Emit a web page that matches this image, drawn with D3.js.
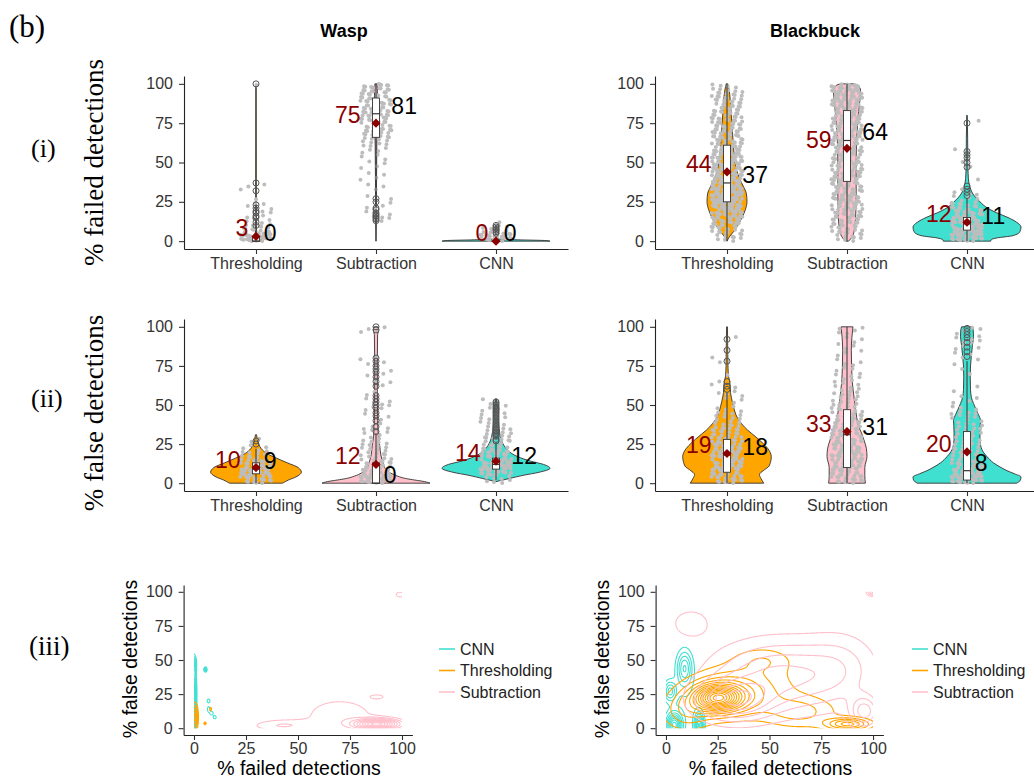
<!DOCTYPE html>
<html><head><meta charset="utf-8">
<script src="https://cdn.jsdelivr.net/npm/d3@7"></script>
<style>body{margin:0;background:#fff}</style>
</head><body><svg id="c" width="1034" height="784"></svg>
<script>
// ---------------- DATA ----------------
const methods = ["Thresholding", "Subtraction", "CNN"];
const methodColors = ["#FFA500", "#FFC0CB", "#40E0D0"];
const speciesNames = ["Wasp", "Blackbuck"];
const yTickValues = [0, 25, 50, 75, 100];
const xTickValues = [0, 25, 50, 75, 100];
const legendOrder = ["CNN", "Thresholding", "Subtraction"];
const legendColors = ["#40E0D0", "#FFA500", "#FFC0CB"];

// violin density profiles: [value, relative half-width]
const failWaspViolin = [
  [[0,0.14],[1,0.1],[2,0.04],[4,0.015],[10,0.008],[40,0.006],[100,0.004]],
  [[0,0.004],[15,0.008],[40,0.01],[60,0.015],[75,0.025],[90,0.03],[100,0.02]],
  [[0,1],[0.4,0.9],[0.8,0.45],[1.2,0.1],[1.6,0.01],[10,0.005]]
];
const failBuckViolin = [
  [[0,0],[3,0.05],[6,0.12],[10,0.2],[15,0.28],[20,0.34],[25,0.37],[30,0.36],[35,0.3],[40,0.23],[45,0.18],[50,0.15],[60,0.12],[70,0.1],[80,0.08],[90,0.06],[96,0.04],[100,0.015]],
  [[0,0.03],[3,0.1],[8,0.14],[15,0.16],[30,0.17],[50,0.17],[65,0.18],[80,0.21],[90,0.24],[96,0.25],[99,0.2],[100,0.12]],
  [[0,0.44],[1,0.45],[2,0.55],[3.5,0.85],[6,0.98],[9,1.0],[12,0.92],[15,0.76],[18,0.55],[21,0.38],[25,0.24],[30,0.11],[35,0.05],[40,0.025],[50,0.015],[65,0.012],[80,0.005]]
];
const falseWaspViolin = [
  [[0,0.49],[2,0.6],[4,0.74],[7,0.84],[10,0.78],[13,0.58],[16,0.38],[19,0.2],[22,0.1],[25,0.05],[28,0.025],[31,0.01]],
  [[0,1],[1,0.9],[2,0.72],[3,0.55],[4.5,0.4],[6.5,0.27],[9,0.18],[13,0.13],[18,0.09],[24,0.07],[30,0.045],[40,0.03],[60,0.025],[80,0.025],[95,0.03],[98,0.05],[100,0.04]],
  [[1,0],[3,0.25],[5,0.5],[7,0.8],[9.5,1.0],[12,0.88],[14,0.65],[17,0.4],[20,0.25],[24,0.15],[30,0.08],[40,0.045],[48,0.03],[54,0.005]]
];
const falseBuckViolin = [
  [[0,0.68],[3,0.63],[5.5,0.6],[8,0.67],[11,0.78],[17,0.82],[22,0.76],[26,0.65],[30,0.52],[34,0.38],[38,0.27],[42,0.19],[49,0.12],[55,0.08],[58,0.065],[62,0.06],[65,0.05],[68,0.03],[75,0.018],[90,0.012],[100,0.008]],
  [[0,0.34],[5,0.33],[10,0.33],[17,0.37],[22,0.36],[27,0.32],[32,0.27],[36,0.22],[42,0.18],[47,0.16],[55,0.13],[64,0.1],[75,0.085],[85,0.08],[93,0.09],[100,0.11]],
  [[0,0.92],[2,0.99],[4,1.0],[6,0.88],[8,0.74],[10,0.63],[13,0.49],[17,0.37],[20,0.3],[23,0.26],[28,0.24],[32,0.24],[37,0.245],[40,0.25],[44,0.21],[47,0.17],[51,0.12],[55,0.08],[60,0.065],[68,0.06],[75,0.065],[81,0.08],[88,0.1],[94,0.12],[98,0.115],[100,0.1]]
];

// jittered observations: counts per 5%-bin (0-5, 5-10, ... 95-100)
const failWaspPoints = [
  [40,12,6,5,4,1,2,1,0,0,0,0,0,0,0,0,0,0,0,1],
  [0,0,2,5,4,2,2,2,3,3,4,4,8,12,15,18,18,18,16,18],
  [30,8,1,0,0,0,0,0,0,0,0,0,0,0,0,0,0,0,0,0]
];
const failBuckPoints = [
  [10,15,22,28,32,34,32,30,28,26,25,24,22,20,18,18,16,15,14,8],
  [10,14,16,18,19,20,20,20,20,20,20,20,21,21,22,22,22,23,24,26],
  [30,35,30,22,14,6,2,1,0,1,1,1,0,0,0,1,0,0,0,0]
];
const falseWaspPoints = [
  [20,30,22,10,5,2,0,0,0,0,0,0,0,0,0,0,0,0,0,0],
  [30,20,15,10,8,6,5,3,3,4,4,2,2,2,3,3,1,0,0,4],
  [8,25,30,20,14,10,8,7,6,5,2,0,0,0,0,0,0,0,0,0]
];
const falseBuckPoints = [
  [18,20,24,24,22,18,14,10,8,5,3,4,3,1,0,1,1,0,1,0],
  [18,18,20,22,22,20,18,15,13,10,8,7,6,5,4,4,3,3,3,5],
  [30,25,18,12,9,8,8,8,7,5,3,2,1,1,1,2,3,4,5,4]
];

// box stats: [lower whisker, q1, median, q3, upper whisker]
const failWaspBox  = [[0,0,0,3,7],[30,66,81,91,100],[0,0,0,0,0]];
const failBuckBox  = [[0,25,37,61,100],[0,38,64,83,100],[0,7,11,15,27]];
const falseWaspBox = [[0,6,9,13,22],[0,0,0,13,32],[2,9,12,16,26]];
const falseBuckBox = [[0,7,18,28,58],[0,10,31,47,100],[0,2,8,33,78]];

const failWaspMean  = [3, 75, 0];
const failBuckMean  = [44, 59, 12];
const falseWaspMean = [10, 12, 14];
const falseBuckMean = [19, 33, 20];

const failWaspOut  = [[10,12,15,16,18,19,21,23,32,37,100],[13,14,15,16,17,18,20,21,25,27],[5,6,7,8,9,10]];
const failBuckOut  = [[],[],[29,31,33,35,47,50,53,55,57,75]];
const falseWaspOut = [[25,27],[33,36,40,43,45,48,50,52,54,56,62,65,68,71,73,75,78,80,98,100],
  [27,28,30,31,32,33,34,35,36,37,38,39,40,41,42,43,44,45,46,47,48,49,50,51,52]];
const falseBuckOut = [[60,62,65,78,85,92],[],[81,84,87,90,93,95,97,99]];

// 2-D density kernels (failed %, false %, sd x, sd y, weight)
const waspCnnKernels = [[0,8,0.7,5,20],[0,25,0.7,10,25],[0,47,0.7,4,6],[5.5,43,0.5,1.2,1],
  [7,20,0.6,1.2,0.6],[7,14,0.6,2,0.8],[8.5,11,0.8,1.5,0.8],[10,8,0.6,1,0.5]];
const waspThrKernels = [[0.5,8,0.9,6,20],[5.3,3.5,0.4,0.7,0.5],[8,14,0.8,2.5,1.5]];
const waspSubKernels = [[88,3,7,2.5,30],[70,9,13,10,38],[42,2,10,3,10],[88,23,2.5,1.2,0.8],[99,98,2,2,1.0]];
const buckCnnKernels = [[9,44,2.5,8.5,10],[4,2,2.5,6,12],[16,2,1.5,6,6],[2,27,2,5,4],[10,22,6,14,6]];
const buckThrKernels = [[25,22,7,6,22],[28,24,13,10,30],[42,32,16,15,20],[10,12,8,9,10],[65,12,12,8,12],[88,3,7,3,6],[47,50,9,6,4]];
const buckSubKernels = [[12,77,7,8,2.2],[32,20,12,10,14],[55,38,22,18,40],[85,45,12,18,8],[96,12,5,8,4],[100,100,2,2,0.4]];
const waspLevels = [14, 5, 10];   // CNN, Thresholding, Subtraction
const buckLevels = [8, 14, 6];

// ---------------- DRAWING ----------------
const svg = d3.select("#c");
const sans = "'Liberation Sans', Arial, Helvetica, sans-serif";
const serif = "'Liberation Serif', 'Times New Roman', serif";
const darkRed = "#8B0000";

function styleAxis(sel, fs) {
  sel.select(".domain").attr("stroke", "#222").attr("stroke-width", 1.1);
  sel.selectAll(".tick line").attr("stroke", "#333").attr("stroke-width", 1.1);
  sel.selectAll(".tick text").attr("fill", "#333").style("font-family", sans).style("font-size", fs + "px");
}

function frac(v) { return v - Math.floor(v); }

function violinPanel(xr, yr, profiles, counts, boxes, means, outs) {
  const g = svg.append("g");
  const x = d3.scaleLinear().domain([0.4, 3.6]).range(xr);
  const y = d3.scaleLinear().domain([-5, 105]).range(yr);
  const step = x(2) - x(1);
  const wS = d3.scaleLinear().domain([0, 1]).range([0, 0.45 * step]);
  const jitter = 0.13 * step;

  methods.forEach((m, i) => {
    const cx = x(i + 1);
    const area = d3.area().curve(d3.curveMonotoneY)
      .y(d => y(d[0])).x0(d => cx - wS(d[1])).x1(d => cx + wS(d[1]));
    g.append("path").attr("d", area(profiles[i]))
      .attr("fill", methodColors[i]).attr("stroke", "#333").attr("stroke-width", 0.9);
  });
  methods.forEach((m, i) => {
    const cx = x(i + 1);
    const pts = [];
    let idx = 0;
    counts[i].forEach((c, b) => {
      for (let k = 0; k < c; k++) {
        idx++;
        const v = Math.min(100, b * 5 + frac(idx * 0.6180339 + 0.31) * 5);
        const dx = (frac(idx * 0.7548777 + 0.17) * 2 - 1) * jitter;
        pts.push([v, dx]);
      }
    });
    g.append("g").selectAll("circle").data(pts).join("circle")
      .attr("cx", d => cx + d[1]).attr("cy", d => y(d[0])).attr("r", 2)
      .attr("fill", "#bdbdbd");
  });
  const bw = 7;
  methods.forEach((m, i) => {
    const cx = x(i + 1);
    const [lo, q1, md, q3, hi] = boxes[i];
    g.append("line").attr("x1", cx).attr("x2", cx).attr("y1", y(lo)).attr("y2", y(q1)).attr("stroke", "#333");
    g.append("line").attr("x1", cx).attr("x2", cx).attr("y1", y(q3)).attr("y2", y(hi)).attr("stroke", "#333");
    g.append("rect").attr("x", cx - bw / 2).attr("width", bw).attr("y", y(q3)).attr("height", Math.max(0, y(q1) - y(q3)))
      .attr("fill", "#fff").attr("stroke", "#333").attr("stroke-width", 0.9);
    g.append("line").attr("x1", cx - bw / 2).attr("x2", cx + bw / 2).attr("y1", y(md)).attr("y2", y(md)).attr("stroke", "#333").attr("stroke-width", 1.2);
    g.append("g").selectAll("circle").data(outs[i]).join("circle")
      .attr("cx", cx).attr("cy", d => y(d)).attr("r", 3)
      .attr("fill", "none").attr("stroke", "#555").attr("stroke-width", 1);
  });
  methods.forEach((m, i) => {
    const cx = x(i + 1);
    g.append("path").attr("d", d3.symbol(d3.symbolSquare, 42)())
      .attr("transform", `translate(${cx},${y(means[i])}) rotate(45)`).attr("fill", darkRed);
  });
  methods.forEach((m, i) => {
    const cx = x(i + 1);
    const t1 = g.append("text").text(Math.round(means[i])).attr("y", y(means[i]))
      .attr("fill", darkRed).style("font-family", sans).style("font-size", "23px").attr("text-anchor", "end");
    const w1 = t1.node().getComputedTextLength();
    t1.attr("x", cx - 0.6 * w1);
    const md = boxes[i][2];
    const t2 = g.append("text").text(Math.round(md)).attr("y", y(md))
      .attr("fill", "#000").style("font-family", sans).style("font-size", "23px").attr("text-anchor", "start");
    const w2 = t2.node().getComputedTextLength();
    t2.attr("x", cx + 0.6 * w2);
  });
  g.append("g").attr("transform", `translate(${xr[0]},0)`)
    .call(d3.axisLeft(y).tickValues(yTickValues).tickSize(5).tickPadding(6).tickSizeOuter(0))
    .call(s => styleAxis(s, 16));
  g.append("g").attr("transform", `translate(0,${yr[0]})`)
    .call(d3.axisBottom(x).tickValues([1, 2, 3]).tickFormat((d, i) => methods[i]).tickSize(5).tickPadding(4).tickSizeOuter(0))
    .call(s => styleAxis(s, 16));
}

function densityContours(g, xs, ys, kernels, levels, color) {
  const gx0 = -6, gdx = 0.25, nx = 449, gy0 = -6, gdy = 0.5, ny = 225;
  const vals = new Float64Array(nx * ny);
  const tw = d3.sum(kernels, k => k[4]);
  kernels.forEach(([mx, my, sx, sy, w]) => {
    const a = w / tw / (2 * Math.PI * sx * sy);
    const ex = new Float64Array(nx), ey = new Float64Array(ny);
    for (let i = 0; i < nx; i++) { const u = (gx0 + i * gdx - mx) / sx; ex[i] = Math.exp(-0.5 * u * u); }
    for (let j = 0; j < ny; j++) { const u = (gy0 + j * gdy - my) / sy; ey[j] = Math.exp(-0.5 * u * u); }
    for (let j = 0; j < ny; j++) {
      const e = a * ey[j]; if (e < 1e-14) continue;
      for (let i = 0; i < nx; i++) vals[j * nx + i] += e * ex[i];
    }
  });
  const mx = d3.max(vals);
  const th = d3.range(1, levels + 1).map(k => mx * k / (levels + 0.6));
  const cs = d3.contours().size([nx, ny]).thresholds(th)(Array.from(vals));
  const proj = d3.geoTransform({ point(px, py) { this.stream.point(xs(gx0 + (px - 0.5) * gdx), ys(gy0 + (py - 0.5) * gdy)); } });
  const path = d3.geoPath(proj);
  g.append("g").selectAll("path").data(cs).join("path").attr("d", path)
    .attr("fill", "none").attr("stroke", color).attr("stroke-width", 1.1);
}

function contourPanel(id, xr, yr, kernelSets, levels, legendX) {
  const g = svg.append("g");
  const x = d3.scaleLinear().domain([-5, 105]).range(xr);
  const y = d3.scaleLinear().domain([-5, 105]).range(yr);
  svg.append("clipPath").attr("id", id).append("rect")
    .attr("x", x(0)).attr("y", y(100)).attr("width", x(100) - x(0)).attr("height", y(0) - y(100));
  const cg = g.append("g").attr("clip-path", `url(#${id})`);
  kernelSets.forEach((k, i) => densityContours(cg, x, y, k, levels[i], legendColors[i]));
  g.append("g").attr("transform", `translate(${xr[0]},0)`)
    .call(d3.axisLeft(y).tickValues(yTickValues).tickSize(5).tickPadding(6).tickSizeOuter(0))
    .call(s => styleAxis(s, 16));
  g.append("g").attr("transform", `translate(0,${yr[0]})`)
    .call(d3.axisBottom(x).tickValues(xTickValues).tickSize(5).tickPadding(3).tickSizeOuter(0))
    .call(s => styleAxis(s, 16));
  g.append("text").text("% failed detections").attr("x", (xr[0] + xr[1]) / 2 + 1).attr("y", 775)
    .attr("text-anchor", "middle").style("font-family", sans).style("font-size", "19.5px").attr("fill", "#000");
  g.append("text").text("% false detections")
    .attr("transform", `translate(${xr[0] - 47},${(yr[0] + yr[1]) / 2 - 1}) rotate(-90)`)
    .attr("text-anchor", "middle").style("font-family", sans).style("font-size", "19.5px").attr("fill", "#000");
  legendOrder.forEach((m, i) => {
    const ly = 649 + i * 21.5;
    g.append("line").attr("x1", legendX).attr("x2", legendX + 16).attr("y1", ly).attr("y2", ly)
      .attr("stroke", legendColors[i]).attr("stroke-width", 1.6);
    g.append("text").text(m).attr("x", legendX + 21).attr("y", ly).attr("dy", "0.36em")
      .style("font-family", sans).style("font-size", "16px").attr("fill", "#222");
  });
}

violinPanel([184, 568], [249, 76], failWaspViolin, failWaspPoints, failWaspBox, failWaspMean, failWaspOut);
violinPanel([655, 1039], [249, 76], failBuckViolin, failBuckPoints, failBuckBox, failBuckMean, failBuckOut);
violinPanel([184, 568], [491, 319], falseWaspViolin, falseWaspPoints, falseWaspBox, falseWaspMean, falseWaspOut);
violinPanel([655, 1039], [491, 319], falseBuckViolin, falseBuckPoints, falseBuckBox, falseBuckMean, falseBuckOut);
contourPanel("clipW", [183.6, 412.4], [735, 585], [waspCnnKernels, waspThrKernels, waspSubKernels], waspLevels, 439);
contourPanel("clipB", [655.6, 883.4], [735, 585], [buckCnnKernels, buckThrKernels, buckSubKernels], buckLevels, 912);

svg.append("text").text(speciesNames[0]).attr("x", 344).attr("y", 37).attr("text-anchor", "middle")
  .style("font-family", sans).style("font-size", "18px").style("font-weight", "bold");
svg.append("text").text(speciesNames[1]).attr("x", 815).attr("y", 37).attr("text-anchor", "middle")
  .style("font-family", sans).style("font-size", "18px").style("font-weight", "bold");
svg.append("text").text("(b)").attr("x", 9).attr("y", 37).style("font-family", serif).style("font-size", "31px");
svg.append("text").text("(i)").attr("x", 31).attr("y", 157).style("font-family", serif).style("font-size", "26px");
svg.append("text").text("(ii)").attr("x", 31).attr("y", 407).style("font-family", serif).style("font-size", "26px");
svg.append("text").text("(iii)").attr("x", 29).attr("y", 655).style("font-family", serif).style("font-size", "27px");
svg.append("text").text("% failed detections").attr("transform", "translate(103,162.5) rotate(-90)")
  .attr("text-anchor", "middle").style("font-family", serif).style("font-size", "27px");
svg.append("text").text("% false detections").attr("transform", "translate(103,413) rotate(-90)")
  .attr("text-anchor", "middle").style("font-family", serif).style("font-size", "27px");
</script>
</body></html>
